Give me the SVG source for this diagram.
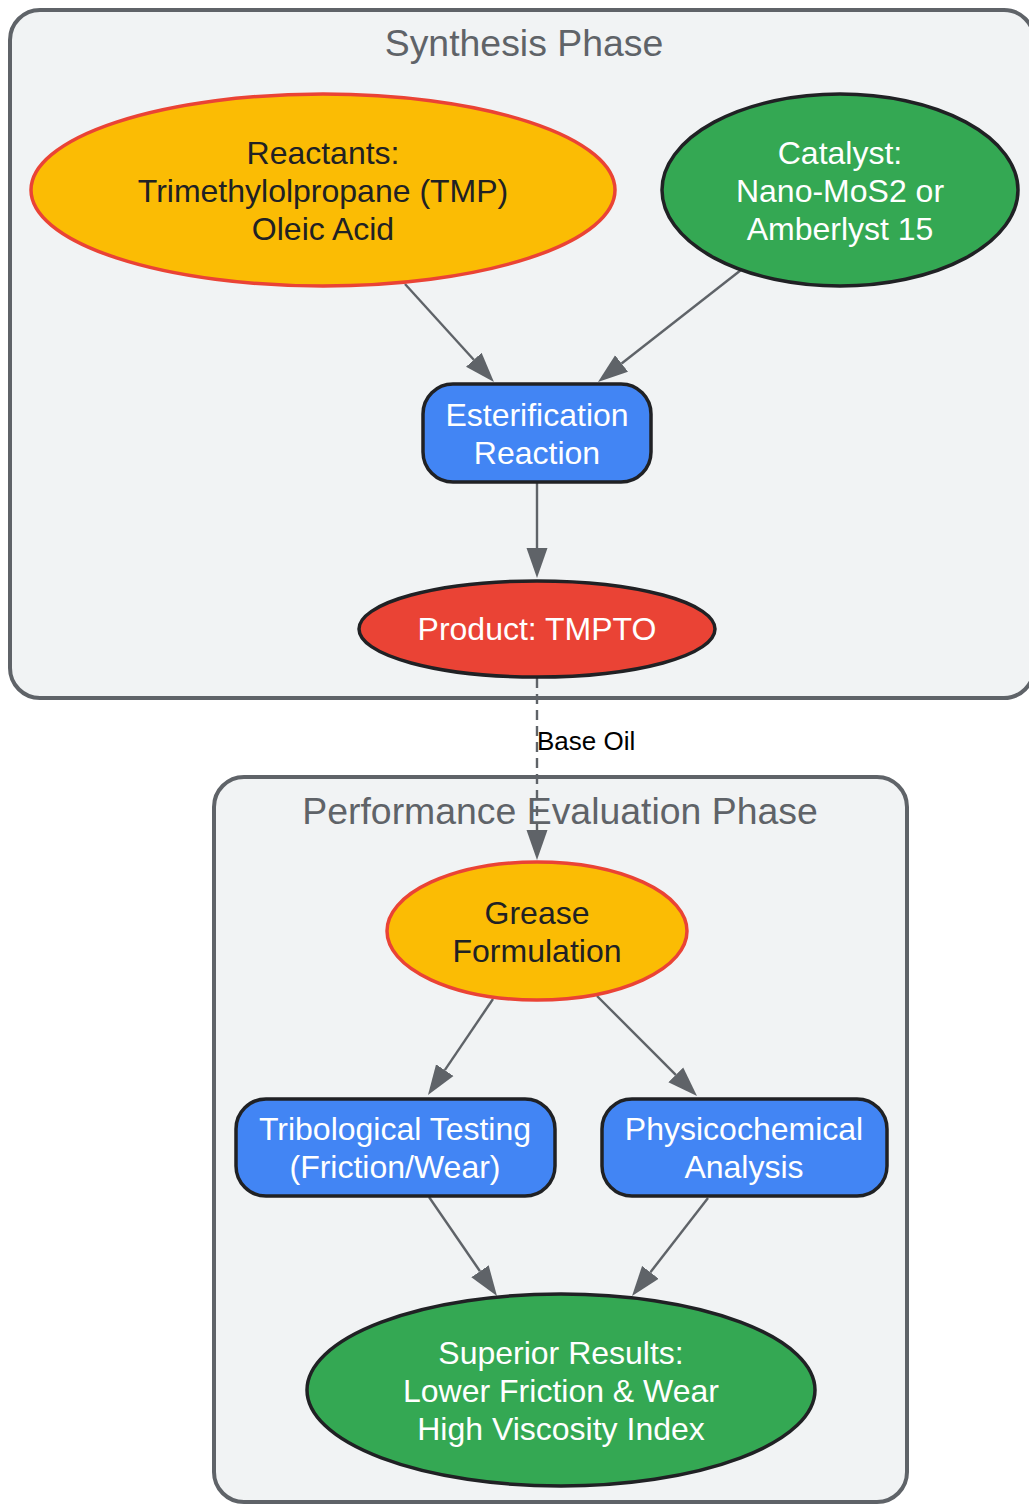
<svg xmlns="http://www.w3.org/2000/svg" width="1029" height="1505" viewBox="0 0 1029 1505">
<style>
  .cluster { fill: #f1f3f4; stroke: #5f6368; stroke-width: 4; }
  .ctitle { font-family: "Liberation Sans", Arial, sans-serif; font-size: 37.4px; fill: #5f6368; text-anchor: middle; }
  .lbl { font-family: "Liberation Sans", Arial, sans-serif; font-size: 32px; text-anchor: middle; }
  .dark { fill: #202124; }
  .light { fill: #ffffff; }
  .yellow { fill: #fbbc04; stroke: #ea4335; stroke-width: 3.5; }
  .green { fill: #34a853; stroke: #202124; stroke-width: 3.5; }
  .blue { fill: #4285f4; stroke: #202124; stroke-width: 3.5; }
  .red { fill: #ea4335; stroke: #202124; stroke-width: 3.5; }
  .edge { fill: none; stroke: #5f6368; stroke-width: 2.4; marker-end: url(#arrow); }
  .dashed { stroke-dasharray: 10 6; }
  .elabel { font-family: "Liberation Sans", Arial, sans-serif; font-size: 26px; fill: #000000; }
</style>
<defs>
  <marker id="arrow" markerUnits="userSpaceOnUse" markerWidth="30" markerHeight="22" viewBox="0 0 30 22" refX="0" refY="11" orient="auto">
    <path d="M0,0.5 L30,11 L0,21.5 Z" fill="#5f6368"/>
  </marker>
</defs>
<rect width="1029" height="1505" fill="#ffffff"/>

<g id="cluster_synthesis">
  <rect class="cluster" x="10" y="10" width="1024" height="688" rx="30" ry="30"/>
  <text class="ctitle" x="524" y="56">Synthesis Phase</text>
</g>
<g id="cluster_performance">
  <rect class="cluster" x="214" y="777" width="693" height="725" rx="30" ry="30"/>
  <text class="ctitle" x="560" y="824">Performance Evaluation Phase</text>
</g>

<g id="connectors">
  <line class="edge" x1="405" y1="284" x2="473.8" y2="359.8"/>
  <line class="edge" x1="741" y1="270" x2="621.6" y2="363.5"/>
  <line class="edge" x1="537" y1="483" x2="537" y2="548"/>
  <line class="edge dashed" x1="537" y1="678" x2="537" y2="830"/>
  <text class="elabel" x="537" y="750">Base Oil</text>
  <line class="edge" x1="493" y1="999" x2="444.8" y2="1070.2"/>
  <line class="edge" x1="597" y1="996" x2="675.8" y2="1074.8"/>
  <line class="edge" x1="429" y1="1197" x2="480" y2="1271.3"/>
  <line class="edge" x1="708" y1="1198" x2="650.4" y2="1272.3"/>
</g>

<g id="reactants">
  <ellipse class="yellow" cx="323" cy="190" rx="292" ry="96"/>
  <text class="lbl dark" x="323" y="164">Reactants:</text>
  <text class="lbl dark" x="323" y="202">Trimethylolpropane (TMP)</text>
  <text class="lbl dark" x="323" y="240">Oleic Acid</text>
</g>
<g id="catalyst">
  <ellipse class="green" cx="840" cy="190" rx="178" ry="96"/>
  <text class="lbl light" x="840" y="164">Catalyst:</text>
  <text class="lbl light" x="840" y="202">Nano-MoS2 or</text>
  <text class="lbl light" x="840" y="240">Amberlyst 15</text>
</g>
<g id="esterification">
  <rect class="blue" x="423" y="384" width="228" height="98" rx="30" ry="30"/>
  <text class="lbl light" x="537" y="426">Esterification</text>
  <text class="lbl light" x="537" y="464">Reaction</text>
</g>
<g id="product">
  <ellipse class="red" cx="537" cy="629" rx="178" ry="48"/>
  <text class="lbl light" x="537" y="640">Product: TMPTO</text>
</g>
<g id="grease">
  <ellipse class="yellow" cx="537" cy="931" rx="150" ry="69"/>
  <text class="lbl dark" x="537" y="924">Grease</text>
  <text class="lbl dark" x="537" y="962">Formulation</text>
</g>
<g id="tribological">
  <rect class="blue" x="236" y="1099" width="319" height="97" rx="30" ry="30"/>
  <text class="lbl light" x="395" y="1140">Tribological Testing</text>
  <text class="lbl light" x="395" y="1178">(Friction/Wear)</text>
</g>
<g id="physicochemical">
  <rect class="blue" x="602" y="1099" width="285" height="97" rx="30" ry="30"/>
  <text class="lbl light" x="744" y="1140">Physicochemical</text>
  <text class="lbl light" x="744" y="1178">Analysis</text>
</g>
<g id="superior">
  <ellipse class="green" cx="561" cy="1390" rx="254" ry="96"/>
  <text class="lbl light" x="561" y="1364">Superior Results:</text>
  <text class="lbl light" x="561" y="1402">Lower Friction &amp; Wear</text>
  <text class="lbl light" x="561" y="1440">High Viscosity Index</text>
</g>
</svg>
